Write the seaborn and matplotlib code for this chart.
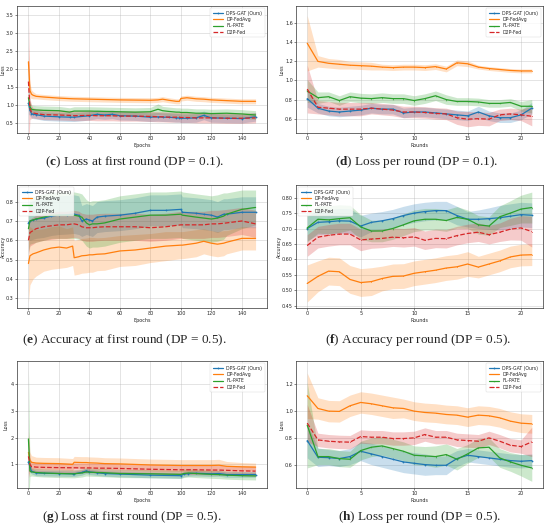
import matplotlib
matplotlib.use("Agg")
import matplotlib.pyplot as plt
from matplotlib.ticker import MultipleLocator
import numpy as np
import seaborn as sns

names = ["DPS-GAT (Ours)", "DP-FedAvg", "FL-PATE", "D2P-Fed"]
colors = ["#1f77b4", "#ff7f0e", "#2ca02c", "#d62728"]

rounds = list(range(22))

# (c) loss at first round, DP = 0.1
c_epochs = [0, 1, 2, 3, 5, 10, 20, 27, 30, 40, 45, 50, 55, 60, 70, 80, 85, 88, 92, 97, 99, 100, 104, 110, 115, 120, 130, 140, 149]
c_dps = [1.05, 0.85, 0.76, 0.74, 0.73, 0.69, 0.67, 0.66, 0.66, 0.70, 0.74, 0.72, 0.74, 0.70, 0.69, 0.66, 0.67, 0.66, 0.66, 0.64, 0.64, 0.63, 0.63, 0.64, 0.71, 0.64, 0.63, 0.62, 0.67]
c_fedavg = [2.2, 1.4, 1.3, 1.27, 1.24, 1.22, 1.19, 1.175, 1.17, 1.16, 1.155, 1.15, 1.145, 1.14, 1.135, 1.13, 1.14, 1.16, 1.13, 1.10, 1.10, 1.18, 1.20, 1.17, 1.16, 1.14, 1.12, 1.10, 1.10]
c_pate = [1.2, 0.95, 0.88, 0.87, 0.86, 0.85, 0.84, 0.80, 0.83, 0.83, 0.825, 0.82, 0.815, 0.81, 0.80, 0.81, 0.88, 0.84, 0.82, 0.80, 0.80, 0.79, 0.79, 0.77, 0.77, 0.76, 0.77, 0.75, 0.72]
c_d2p = [1.65, 0.9, 0.80, 0.78, 0.76, 0.73, 0.72, 0.71, 0.70, 0.71, 0.70, 0.70, 0.70, 0.69, 0.69, 0.68, 0.67, 0.67, 0.66, 0.66, 0.66, 0.65, 0.65, 0.64, 0.64, 0.64, 0.63, 0.63, 0.64]
c_dps_sd = [0.3, 0.15] + [0.12] * 27
c_fedavg_sd = [0.45, 0.2, 0.12, 0.1] + [0.07] * 25
c_pate_sd = [0.3, 0.15] + [0.12] * 14 + [0.15] + [0.12] * 12
c_d2p_sd = [1.9, 0.3, 0.18] + [0.14] * 26

# (d) loss per round, DP = 0.1
d_dps = [0.81, 0.71, 0.68, 0.67, 0.68, 0.69, 0.71, 0.70, 0.70, 0.66, 0.67, 0.67, 0.66, 0.65, 0.64, 0.63, 0.67, 0.63, 0.61, 0.61, 0.64, 0.71]
d_fedavg = [1.39, 1.20, 1.18, 1.17, 1.16, 1.155, 1.15, 1.14, 1.135, 1.14, 1.14, 1.135, 1.145, 1.12, 1.185, 1.175, 1.14, 1.125, 1.115, 1.105, 1.10, 1.10]
d_pate = [0.89, 0.82, 0.83, 0.79, 0.83, 0.815, 0.81, 0.82, 0.81, 0.81, 0.79, 0.81, 0.84, 0.80, 0.78, 0.78, 0.775, 0.76, 0.76, 0.77, 0.73, 0.73]
d_d2p = [0.91, 0.72, 0.71, 0.70, 0.70, 0.70, 0.71, 0.70, 0.69, 0.67, 0.67, 0.665, 0.655, 0.65, 0.61, 0.595, 0.60, 0.595, 0.64, 0.65, 0.64, 0.625]
d_dps_sd = [0.09, 0.05, 0.05, 0.05, 0.05, 0.05, 0.05, 0.05, 0.05, 0.05, 0.05, 0.05, 0.05, 0.05, 0.05, 0.05, 0.06, 0.05, 0.05, 0.05, 0.05, 0.06]
d_fedavg_sd = [0.29, 0.06, 0.05, 0.05, 0.04, 0.04, 0.04, 0.03, 0.03, 0.03, 0.03, 0.03, 0.03, 0.03, 0.03, 0.03, 0.02, 0.02, 0.02, 0.02, 0.02, 0.02]
d_pate_sd = [0.12, 0.06, 0.05, 0.05, 0.05, 0.05, 0.05, 0.05, 0.05, 0.05, 0.05, 0.05, 0.05, 0.05, 0.04, 0.04, 0.04, 0.04, 0.04, 0.04, 0.05, 0.07]
d_d2p_sd = [0.25, 0.07, 0.07, 0.07, 0.07, 0.07, 0.06, 0.06, 0.06, 0.06, 0.06, 0.06, 0.06, 0.06, 0.07, 0.08, 0.07, 0.07, 0.06, 0.06, 0.06, 0.10]

# (e) accuracy at first round, DP = 0.5
e_epochs = [0, 1, 3, 5, 10, 15, 20, 25, 29, 30, 33, 35, 38, 40, 42, 45, 50, 60, 70, 80, 90, 100, 101, 110, 115, 120, 124, 128, 130, 140, 149]
e_dps = [0.69, 0.70, 0.705, 0.71, 0.715, 0.725, 0.73, 0.732, 0.735, 0.735, 0.73, 0.70, 0.71, 0.705, 0.70, 0.72, 0.725, 0.73, 0.74, 0.755, 0.755, 0.76, 0.745, 0.74, 0.735, 0.73, 0.72, 0.735, 0.735, 0.745, 0.745]
e_fedavg = [0.48, 0.52, 0.53, 0.535, 0.55, 0.56, 0.565, 0.56, 0.57, 0.51, 0.515, 0.52, 0.522, 0.525, 0.525, 0.528, 0.53, 0.545, 0.55, 0.56, 0.57, 0.575, 0.575, 0.585, 0.595, 0.585, 0.58, 0.585, 0.59, 0.61, 0.61]
e_pate = [0.66, 0.70, 0.705, 0.71, 0.72, 0.73, 0.73, 0.73, 0.73, 0.73, 0.725, 0.72, 0.69, 0.68, 0.685, 0.685, 0.69, 0.71, 0.72, 0.73, 0.73, 0.735, 0.73, 0.72, 0.715, 0.71, 0.715, 0.725, 0.735, 0.76, 0.77]
e_d2p = [0.60, 0.64, 0.65, 0.66, 0.67, 0.675, 0.68, 0.68, 0.685, 0.685, 0.68, 0.67, 0.665, 0.665, 0.665, 0.668, 0.67, 0.67, 0.67, 0.665, 0.67, 0.68, 0.68, 0.68, 0.68, 0.685, 0.685, 0.688, 0.69, 0.70, 0.685]
e_dps_sd = [0.08] + [0.1] * 10 + [0.08] * 20
e_fedavg_sd = [0.2, 0.15, 0.13, 0.12, 0.11, 0.11, 0.11, 0.1, 0.1, 0.09, 0.09, 0.09, 0.09, 0.09, 0.09, 0.085, 0.085, 0.08, 0.08, 0.075, 0.075, 0.07, 0.07, 0.07, 0.065, 0.065, 0.065, 0.065, 0.06, 0.06, 0.06]
e_pate_sd = [0.12] * 28 + [0.11, 0.1, 0.09]
e_d2p_sd = [0.07] * 31

# (f) accuracy per round, DP = 0.5
f_dps = [0.70, 0.72, 0.722, 0.725, 0.724, 0.708, 0.720, 0.725, 0.732, 0.742, 0.750, 0.755, 0.758, 0.758, 0.742, 0.730, 0.730, 0.732, 0.735, 0.740, 0.745, 0.743]
f_fedavg = [0.522, 0.545, 0.562, 0.560, 0.535, 0.525, 0.528, 0.538, 0.545, 0.546, 0.555, 0.560, 0.565, 0.572, 0.576, 0.585, 0.575, 0.585, 0.595, 0.608, 0.614, 0.615]
f_pate = [0.702, 0.730, 0.728, 0.732, 0.735, 0.705, 0.692, 0.692, 0.700, 0.712, 0.725, 0.730, 0.730, 0.726, 0.736, 0.730, 0.712, 0.708, 0.738, 0.750, 0.763, 0.768]
f_d2p = [0.645, 0.672, 0.678, 0.682, 0.682, 0.663, 0.666, 0.668, 0.672, 0.670, 0.673, 0.662, 0.668, 0.667, 0.677, 0.684, 0.688, 0.680, 0.688, 0.698, 0.702, 0.690]
f_dps_sd = [0.04, 0.04, 0.04, 0.04, 0.04, 0.035, 0.03, 0.03, 0.03, 0.03, 0.03, 0.03, 0.03, 0.03, 0.03, 0.025, 0.03, 0.035, 0.04, 0.04, 0.04, 0.04]
f_fedavg_sd = [0.06, 0.05, 0.045, 0.045, 0.045, 0.045, 0.045, 0.04, 0.04, 0.04, 0.04, 0.04, 0.04, 0.04, 0.04, 0.04, 0.035, 0.035, 0.035, 0.035, 0.035, 0.035]
f_pate_sd = [0.045, 0.045, 0.045, 0.045, 0.04, 0.04, 0.035, 0.035, 0.035, 0.035, 0.035, 0.035, 0.035, 0.035, 0.035, 0.03, 0.03, 0.03, 0.035, 0.04, 0.045, 0.05]
f_d2p_sd = [0.035, 0.035, 0.035, 0.035, 0.035, 0.035, 0.03, 0.03, 0.03, 0.03, 0.03, 0.03, 0.03, 0.03, 0.03, 0.03, 0.03, 0.03, 0.03, 0.035, 0.04, 0.05]

# (g) loss at first round, DP = 0.5
g_epochs = [0, 1, 2, 5, 10, 20, 29, 30, 35, 38, 40, 45, 50, 60, 80, 100, 102, 105, 110, 120, 125, 130, 140, 149]
g_dps = [1.1, 0.9, 0.75, 0.68, 0.67, 0.66, 0.65, 0.65, 0.70, 0.76, 0.72, 0.69, 0.66, 0.64, 0.60, 0.58, 0.64, 0.66, 0.67, 0.65, 0.66, 0.62, 0.62, 0.62]
g_fedavg = [1.45, 1.15, 1.08, 1.05, 1.04, 1.03, 1.0, 1.08, 1.07, 1.07, 1.06, 1.05, 1.03, 1.02, 0.98, 0.96, 0.96, 0.96, 0.96, 0.96, 0.97, 0.93, 0.91, 0.90]
g_pate = [1.95, 0.75, 0.72, 0.70, 0.68, 0.66, 0.65, 0.65, 0.68, 0.72, 0.71, 0.70, 0.69, 0.66, 0.65, 0.63, 0.66, 0.68, 0.66, 0.63, 0.62, 0.60, 0.58, 0.57]
g_d2p = [1.3, 1.0, 0.92, 0.90, 0.89, 0.88, 0.875, 0.875, 0.87, 0.87, 0.87, 0.86, 0.86, 0.85, 0.82, 0.80, 0.80, 0.80, 0.80, 0.79, 0.79, 0.78, 0.76, 0.75]
g_dps_sd = [0.3, 0.2] + [0.1] * 22
g_fedavg_sd = [0.8, 0.3, 0.25] + [0.22] * 18 + [0.18, 0.16, 0.15]
g_pate_sd = [2.6, 0.2] + [0.15] * 22
g_d2p_sd = [0.8, 0.25] + [0.18] * 22

# (h) loss per round, DP = 0.5
h_dps = [0.78, 0.655, 0.652, 0.645, 0.66, 0.70, 0.68, 0.66, 0.64, 0.62, 0.61, 0.60, 0.595, 0.595, 0.645, 0.67, 0.66, 0.65, 0.64, 0.63, 0.625, 0.63]
h_fedavg = [1.115, 1.02, 1.0, 0.998, 1.04, 1.065, 1.055, 1.04, 1.025, 1.02, 1.0, 0.99, 0.985, 0.975, 0.97, 0.955, 0.97, 0.965, 0.95, 0.925, 0.91, 0.905]
h_pate = [0.895, 0.66, 0.66, 0.645, 0.64, 0.705, 0.73, 0.74, 0.72, 0.70, 0.67, 0.665, 0.66, 0.675, 0.64, 0.68, 0.725, 0.73, 0.65, 0.62, 0.595, 0.575]
h_d2p = [0.91, 0.785, 0.775, 0.77, 0.768, 0.81, 0.805, 0.805, 0.795, 0.795, 0.80, 0.825, 0.805, 0.805, 0.785, 0.78, 0.775, 0.80, 0.775, 0.745, 0.735, 0.77]
h_dps_sd = [0.13, 0.07, 0.06, 0.06, 0.06, 0.07, 0.08, 0.08, 0.08, 0.08, 0.08, 0.08, 0.07, 0.07, 0.06, 0.05, 0.05, 0.05, 0.05, 0.05, 0.05, 0.05]
h_fedavg_sd = [0.17, 0.08, 0.08, 0.08, 0.08, 0.08, 0.08, 0.08, 0.08, 0.07, 0.07, 0.07, 0.07, 0.07, 0.07, 0.07, 0.07, 0.07, 0.07, 0.07, 0.07, 0.07]
h_pate_sd = [0.32, 0.06, 0.06, 0.06, 0.06, 0.07, 0.07, 0.07, 0.07, 0.07, 0.07, 0.07, 0.08, 0.08, 0.08, 0.07, 0.07, 0.07, 0.07, 0.07, 0.08, 0.10]
h_d2p_sd = [0.14, 0.05, 0.05, 0.05, 0.05, 0.05, 0.05, 0.05, 0.05, 0.05, 0.05, 0.05, 0.05, 0.05, 0.05, 0.05, 0.05, 0.05, 0.05, 0.05, 0.05, 0.11]

captions = [
    r"($\mathbf{c}$) Loss at first round (DP = 0.1).",
    r"($\mathbf{d}$) Loss per round (DP = 0.1).",
    r"($\mathbf{e}$) Accuracy at first round (DP = 0.5).",
    r"($\mathbf{f}$) Accuracy per round (DP = 0.5).",
    r"($\mathbf{g}$) Loss at first round (DP = 0.5).",
    r"($\mathbf{h}$) Loss per round (DP = 0.5).",
]

sns.set_style("ticks")
plt.rcParams["font.family"] = ["DejaVu Sans"]
plt.rcParams["mathtext.fontset"] = "custom"
plt.rcParams["mathtext.rm"] = "Liberation Serif"
plt.rcParams["mathtext.bf"] = "Liberation Serif:bold"

fig = plt.figure(figsize=(5.5, 5.29), dpi=100)

lx, lw_ = 17 / 550, 250 / 550
rx, rw = 296 / 550, 247 / 550
rows = [(1 - 133 / 529, 127 / 529), (1 - 308 / 529, 123 / 529), (1 - 488 / 529, 127 / 529)]


def panel(ax, x, means, sds, per_round, ylab, ylim, ystep, loc, ylab_x=-0.045):
    for i in range(4):
        m = np.array(means[i])
        s = np.array(sds[i])
        ax.fill_between(x, m - s, m + s, color=colors[i], alpha=0.24, lw=0)
    styles = ["-", "-", "-", "--"]
    marks = ["o", ".", "^", "."]
    for i in range(4):
        sns.lineplot(x=x, y=means[i], ax=ax, color=colors[i], lw=0.9,
                     linestyle=styles[i], marker=marks[i] if (per_round or i == 0) else None,
                     ms=1.3 if i == 0 else 1.0, mec=colors[i], mew=0, label=names[i])
    ax.set_ylim(*ylim)
    ax.yaxis.set_major_locator(MultipleLocator(ystep))
    if per_round:
        ax.set_xlim(-1.05, 22.05)
        ax.xaxis.set_major_locator(MultipleLocator(5))
        ax.set_xlabel("Rounds", fontsize=3.5, labelpad=1)
    else:
        ax.set_xlim(-7.5, 156.5)
        ax.xaxis.set_major_locator(MultipleLocator(20))
        ax.set_xlabel("Epochs", fontsize=3.5, labelpad=1)
    ax.set_ylabel(ylab, fontsize=3.5)
    ax.yaxis.set_label_coords(ylab_x, 0.5)
    ax.grid(True, color="#b0b0b0", lw=0.4, alpha=0.6)
    ax.tick_params(labelsize=3.5, length=1.5, width=0.4, pad=0.8)
    for sp in ax.spines.values():
        sp.set_visible(True)
        sp.set_linewidth(0.5)
        sp.set_color("#333333")
    leg = ax.legend(loc=loc, fontsize=3.3, frameon=True, handlelength=2.2,
                    borderpad=0.5, labelspacing=0.3)
    leg.get_frame().set_linewidth(0.3)


axes = []
for (b, h) in rows:
    axes.append(fig.add_axes([lx, b, lw_, h]))
    axes.append(fig.add_axes([rx, b, rw, h]))

panel(axes[0], c_epochs, [c_dps, c_fedavg, c_pate, c_d2p], [c_dps_sd, c_fedavg_sd, c_pate_sd, c_d2p_sd],
      False, "Loss", (0.22, 3.75), 0.5, "upper right")
panel(axes[1], rounds, [d_dps, d_fedavg, d_pate, d_d2p], [d_dps_sd, d_fedavg_sd, d_pate_sd, d_d2p_sd],
      True, "Loss", (0.45, 1.78), 0.2, "upper right")
panel(axes[2], e_epochs, [e_dps, e_fedavg, e_pate, e_d2p], [e_dps_sd, e_fedavg_sd, e_pate_sd, e_d2p_sd],
      False, "Accuracy", (0.25, 0.886), 0.1, "upper left")
panel(axes[3], rounds, [f_dps, f_fedavg, f_pate, f_d2p], [f_dps_sd, f_fedavg_sd, f_pate_sd, f_d2p_sd],
      True, "Accuracy", (0.4425, 0.841), 0.05, "upper left", ylab_x=-0.058)
panel(axes[4], g_epochs, [g_dps, g_fedavg, g_pate, g_d2p], [g_dps_sd, g_fedavg_sd, g_pate_sd, g_d2p_sd],
      False, "Loss", (0.12, 4.86), 1, "upper right", ylab_x=-0.035)
panel(axes[5], rounds, [h_dps, h_fedavg, h_pate, h_d2p], [h_dps_sd, h_fedavg_sd, h_pate_sd, h_d2p_sd],
      True, "Loss", (0.425, 1.375), 0.2, "upper right")

cap_x = [135, 417, 124, 418, 132, 420]
cap_y = [162, 162, 340, 340, 517, 517]
for t, cx, cy in zip(captions, cap_x, cap_y):
    fig.text(cx / 550, 1 - cy / 529, t, ha="center", va="center", fontsize=9.5,
             family="Liberation Serif")

fig.savefig("out.png", dpi=100)
